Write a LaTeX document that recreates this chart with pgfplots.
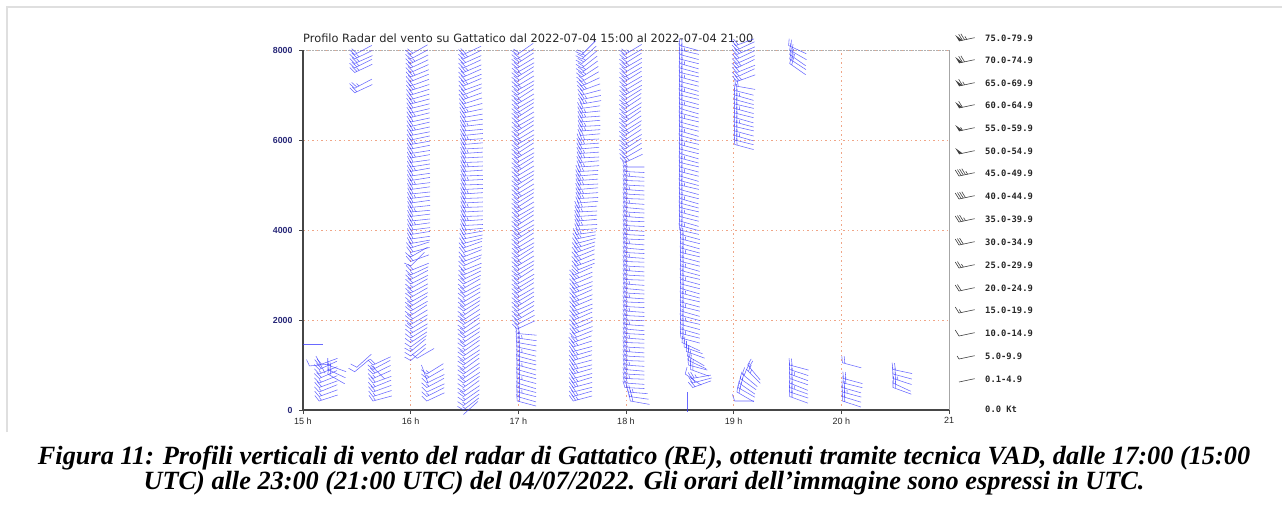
\documentclass[border=0pt]{standalone}
\usepackage{fontspec}
\usepackage{pgfplots}
\pgfplotsset{compat=1.18}
\setmainfont{DejaVu Sans}
\newfontfamily\capfont{Liberation Serif}
\newfontfamily\tickfont{Liberation Sans}
\newfontfamily\legfont{DejaVu Sans Mono}
\definecolor{barbblue}{RGB}{55,55,255}
\definecolor{gridc}{RGB}{240,165,135}
\definecolor{navyc}{RGB}{40,40,120}
\definecolor{axc}{RGB}{70,70,70}

\pgfdeclareplotmark{barb}{%
  \pgfsetlinewidth{0.55pt}%
  \pgfsetstrokecolor{barbblue}%
  \pgfsetstrokeopacity{0.75}%
  \pgfpathmoveto{\pgfqpoint{19.5pt}{0pt}}%
  \pgfpathlineto{\pgfqpoint{0pt}{0pt}}%
  \ifnum\barbn>1 \pgfpathlineto{\pgfpointpolar{110}{7pt}}\fi
  \ifnum\barbn>3 \pgfpathmoveto{\pgfqpoint{2.5pt}{0pt}}\pgfpathlineto{\pgfpointadd{\pgfqpoint{2.5pt}{0pt}}{\pgfpointpolar{110}{7pt}}}\fi
  \ifnum\barbn>5 \pgfpathmoveto{\pgfqpoint{5pt}{0pt}}\pgfpathlineto{\pgfpointadd{\pgfqpoint{5pt}{0pt}}{\pgfpointpolar{110}{7pt}}}\fi
  \ifodd\barbn
    \pgfpathmoveto{\pgfqpoint{\dimexpr(\barbn pt-1pt)*5/4\relax}{0pt}}%
    \pgfpathlineto{\pgfpointadd{\pgfqpoint{\dimexpr(\barbn pt-1pt)*5/4\relax}{0pt}}{\pgfpointpolar{110}{3.5pt}}}%
  \fi
  \pgfusepathqstroke}

\pgfplotsset{barbs/.style={scatter, only marks, mark=barb,
  visualization depends on={value \thisrow{a} \as \barbang},
  visualization depends on={value \thisrow{n} \as \barbn},
  scatter/@pre marker code/.append style={/tikz/rotate=\barbang}}}

\begin{document}
\begin{tikzpicture}[x=1pt,y=1pt]
\path[use as bounding box] (0,0) rectangle (1282,-504);
\draw[gray!25, line width=1.5pt] (7,-432) -- (7,-7) -- (1282,-7);
\node[anchor=west, font=\fontsize{11.4}{13}\selectfont, text=black!85, inner sep=0pt] at (303,-38) {Profilo Radar del vento su Gattatico dal 2022-07-04 15:00 al 2022-07-04 21:00};

\begin{axis}[
  at={(303pt,-410pt)}, anchor=south west,
  scale only axis, width=646pt, height=360pt,
  xmin=15, xmax=21, ymin=0, ymax=8000,
  clip=false,
  axis line style={draw=none},
  xtick={15,16,17,18,19,20,21},
  xticklabels={15 h,16 h,17 h,18 h,19 h,20 h,21},
  ytick={0,2000,4000,6000,8000},
  yticklabels={0,2000,4000,6000,8000},
  xticklabel style={font=\tickfont\fontsize{9}{10}\selectfont, text=black!85},
  yticklabel style={font=\tickfont\bfseries\fontsize{8.8}{10}\selectfont, text=navyc, xshift=-3pt},
  tick align=outside, major tick length=4pt,
  tick style={axc, line width=0.8pt},
  xtick pos=bottom, ytick pos=left,
  grid=major,
  grid style={gridc, line width=0.7pt, dash pattern=on 1.5pt off 3pt},
]
\draw[gray!60, line width=0.8pt, dash pattern=on 2pt off 1pt] (rel axis cs:0,1) -- (rel axis cs:1,1);
\draw[gray!70, line width=0.8pt] (rel axis cs:1,1) -- (rel axis cs:1,0);
\draw[axc, line width=2pt] (rel axis cs:0,1) -- (rel axis cs:0,0) -- (rel axis cs:1,0);

% 15 h area
\addplot[barbs] table {
x y a n
15.00 1450 0 0
15.06 980 5 2
15.12 1200 -62 0
15.15 200 18 3
15.15 300 20 3
15.15 400 22 3
15.15 500 20 4
15.15 600 22 3
15.15 700 24 4
15.15 800 22 3
15.15 900 25 4
15.15 1000 20 4
15.23 800 -30 4
15.23 900 -25 4
15.23 1000 -20 3
15.48 850 40 2
15.50 950 42 2
15.63 1000 -45 0
15.65 200 15 3
15.65 300 18 3
15.65 400 20 4
15.65 500 22 3
15.65 600 20 4
15.65 700 24 3
15.65 800 26 4
15.65 900 28 3
15.65 1000 25 4
15.48 7050 25 4
15.48 7150 28 5
15.48 7500 25 5
15.48 7600 27 5
15.48 7700 24 5
15.48 7800 26 5
15.48 7900 28 4
};

% 16 h
\addplot[barbs] table {
x y a n
16.00 1100 40 2
16.00 1200 38 2
16.00 1300 40 3
16.00 1400 36 2
16.00 1500 33 3
16.00 1600 32 3
16.00 1700 30 3
16.00 1800 32 4
16.00 1900 30 3
16.00 2000 31 4
16.00 2100 33 3
16.00 2200 30 4
16.00 2300 32 4
16.00 2400 29 3
16.00 2500 30 4
16.00 2600 28 4
16.00 2700 30 3
16.00 2800 27 4
16.00 2900 28 4
16.00 3000 25 3
16.00 3100 22 4
16.00 3200 45 2
16.00 3300 20 4
16.00 3400 30 3
16.00 3500 15 4
16.00 3600 18 4
16.00 3700 10 4
16.00 3800 8 4
16.00 3900 9 4
16.00 4000 7 4
16.00 4100 8 5
16.00 4200 6 4
16.00 4300 7 4
16.00 4400 5 5
16.00 4500 6 4
16.00 4600 8 4
16.00 4700 7 5
16.00 4800 6 4
16.00 4900 8 4
16.00 5000 7 5
16.00 5100 9 4
16.00 5200 8 4
16.00 5300 10 5
16.00 5400 9 4
16.00 5500 8 4
16.00 5600 10 5
16.00 5700 9 4
16.00 5800 11 4
16.00 5900 10 5
16.00 6000 12 4
16.00 6100 11 4
16.00 6200 12 5
16.00 6300 13 4
16.00 6400 12 4
16.00 6500 14 5
16.00 6600 13 4
16.00 6700 14 4
16.00 6800 15 5
16.00 6900 16 4
16.00 7000 17 4
16.00 7100 18 5
16.00 7200 20 4
16.00 7300 22 4
16.00 7400 22 5
16.00 7500 24 4
16.00 7600 25 4
16.00 7700 26 5
16.00 7800 28 4
16.00 7900 30 4
16.15 200 25 2
16.15 300 27 3
16.15 400 25 2
16.15 500 28 3
16.15 600 26 2
16.15 700 30 3
16.15 800 32 3
16.10 1000 -70 0
16.06 1150 30 2
};

% 16.5 h
\addplot[barbs] table {
x y a n
16.49 -100 42 0
16.49 0 38 3
16.49 100 36 3
16.49 200 35 3
16.49 300 34 4
16.49 400 36 3
16.49 500 35 3
16.49 600 33 4
16.49 700 35 3
16.49 800 34 4
16.49 900 36 3
16.49 1000 35 4
16.49 1100 33 3
16.49 1200 34 4
16.49 1300 35 3
16.49 1400 33 4
16.49 1500 34 3
16.49 1600 32 4
16.49 1700 33 4
16.49 1800 35 3
16.49 1900 32 4
16.49 2000 33 4
16.49 2100 34 3
16.49 2200 32 4
16.49 2300 30 4
16.49 2400 31 3
16.49 2500 30 4
16.49 2600 28 4
16.49 2700 30 3
16.49 2800 27 4
16.49 2900 26 4
16.49 3000 24 4
16.49 3100 22 3
16.49 3200 25 4
16.49 3300 20 4
16.49 3400 22 3
16.49 3500 18 4
16.49 3600 20 4
16.49 3700 15 4
16.49 3800 12 4
16.49 3900 10 4
16.49 4000 5 4
16.49 4100 3 4
16.49 4200 4 5
16.49 4300 2 4
16.49 4400 3 4
16.49 4500 2 5
16.49 4600 3 4
16.49 4700 2 4
16.49 4800 4 5
16.49 4900 3 4
16.49 5000 2 4
16.49 5100 3 5
16.49 5200 2 4
16.49 5300 4 4
16.49 5400 3 5
16.49 5500 2 4
16.49 5600 3 4
16.49 5700 4 5
16.49 5800 3 4
16.49 5900 5 4
16.49 6000 4 5
16.49 6100 6 4
16.49 6200 5 4
16.49 6300 7 5
16.49 6400 8 4
16.49 6500 10 4
16.49 6600 12 5
16.49 6700 15 4
16.49 6800 18 4
16.49 6900 20 5
16.49 7000 22 4
16.49 7100 20 4
16.49 7200 23 5
16.49 7300 22 4
16.49 7400 24 4
16.49 7500 23 5
16.49 7600 25 4
16.49 7700 24 4
16.49 7800 26 5
16.49 7900 25 4
};

% 17 h
\addplot[barbs] table {
x y a n
16.99 200 -15 4
16.99 300 -16 4
16.99 400 -14 5
16.99 500 -15 4
16.99 600 -17 4
16.99 700 -15 5
16.99 800 -14 4
16.99 900 -16 4
16.99 1000 -15 5
16.99 1100 -13 4
16.99 1200 -15 4
16.99 1300 -14 5
16.99 1400 -12 4
16.99 1500 -10 4
16.99 1600 -8 5
16.99 1700 -5 4
16.99 1800 25 4
16.99 1900 28 4
16.99 2000 30 5
16.99 2100 31 4
16.99 2200 30 4
16.99 2300 32 5
16.99 2400 31 4
16.99 2500 30 4
16.99 2600 32 5
16.99 2700 31 4
16.99 2800 30 4
16.99 2900 33 5
16.99 3000 32 4
16.99 3100 30 4
16.99 3200 31 5
16.99 3300 33 4
16.99 3400 32 4
16.99 3500 30 5
16.99 3600 31 4
16.99 3700 33 4
16.99 3800 32 5
16.99 3900 30 4
16.99 4000 31 4
16.99 4100 33 5
16.99 4200 32 4
16.99 4300 30 4
16.99 4400 31 5
16.99 4500 33 4
16.99 4600 32 4
16.99 4700 30 5
16.99 4800 31 4
16.99 4900 33 4
16.99 5000 32 5
16.99 5100 30 4
16.99 5200 31 4
16.99 5300 33 5
16.99 5400 32 4
16.99 5500 30 4
16.99 5600 31 5
16.99 5700 33 4
16.99 5800 32 4
16.99 5900 30 5
16.99 6000 31 4
16.99 6100 33 4
16.99 6200 32 5
16.99 6300 30 4
16.99 6400 31 4
16.99 6500 33 5
16.99 6600 32 4
16.99 6700 30 4
16.99 6800 31 5
16.99 6900 33 4
16.99 7000 32 4
16.99 7100 30 5
16.99 7200 31 4
16.99 7300 33 4
16.99 7400 32 5
16.99 7500 30 4
16.99 7600 31 4
16.99 7700 33 5
16.99 7800 32 4
16.99 7900 35 4
};

% 17.5 h
\addplot[barbs] table {
x y a n
17.51 200 15 5
17.51 300 16 5
17.51 400 14 4
17.51 500 15 5
17.51 600 17 5
17.51 700 15 4
17.51 800 16 5
17.51 900 14 5
17.51 1000 15 4
17.51 1100 17 5
17.51 1200 16 5
17.51 1300 15 4
17.51 1400 18 5
17.51 1500 20 5
17.52 1600 22 4
17.52 1700 21 5
17.52 1800 23 5
17.52 1900 22 4
17.52 2000 24 5
17.52 2100 22 5
17.52 2200 21 4
17.52 2300 23 5
17.52 2400 22 5
17.52 2500 24 4
17.52 2600 22 5
17.52 2700 21 5
17.52 2800 23 4
17.52 2900 22 5
17.52 3000 24 5
17.54 3100 22 4
17.54 3200 21 5
17.54 3300 23 5
17.54 3400 22 4
17.54 3500 20 5
17.54 3600 18 5
17.54 3700 15 4
17.54 3800 12 5
17.54 3900 8 5
17.55 4000 4 4
17.55 4100 3 5
17.55 4200 5 5
17.55 4300 4 4
17.55 4400 3 5
17.55 4500 4 5
17.56 4600 5 4
17.56 4700 3 5
17.56 4800 4 5
17.56 4900 5 4
17.56 5000 3 5
17.56 5100 4 5
17.56 5200 5 4
17.56 5300 3 5
17.57 5400 4 5
17.57 5500 5 4
17.57 5600 3 5
17.57 5700 4 5
17.57 5800 5 4
17.57 5900 4 5
17.57 6000 3 5
17.58 6100 5 4
17.58 6200 4 5
17.58 6300 3 5
17.58 6400 5 4
17.58 6500 4 5
17.58 6600 6 5
17.58 6700 8 4
17.59 6800 10 5
17.59 6900 12 5
17.59 7000 15 4
17.59 7100 20 5
17.59 7200 25 5
17.59 7300 30 4
17.59 7400 33 5
17.59 7500 36 5
17.59 7600 38 4
17.59 7700 40 5
17.59 7800 42 5
17.59 7900 45 4
};

% 18 h
\addplot[barbs] table {
x y a n
18.04 200 -10 4
18.03 300 -8 4
18.02 400 -5 5
17.99 500 -3 4
17.99 600 -4 4
17.99 700 -2 5
17.99 800 -3 4
17.99 900 -5 4
17.99 1000 -4 5
17.99 1100 -2 4
17.99 1200 -3 4
17.99 1300 -4 5
17.99 1400 -3 4
17.99 1500 -2 4
17.99 1600 -4 5
17.99 1700 -3 4
17.99 1800 -5 4
17.99 1900 -4 5
17.99 2000 -2 4
17.99 2100 -3 4
17.99 2200 -4 5
17.99 2300 -3 4
17.99 2400 -2 4
17.99 2500 -4 5
17.99 2600 -3 4
17.99 2700 -5 4
17.99 2800 -4 5
17.99 2900 -2 4
17.99 3000 -3 4
17.99 3100 -4 5
17.99 3200 -3 4
17.99 3300 -2 4
17.99 3400 -4 5
17.99 3500 -3 4
17.99 3600 -5 4
17.99 3700 -4 5
17.99 3800 -2 4
17.99 3900 -3 4
17.99 4000 -4 5
17.99 4100 -3 4
17.99 4200 -2 4
17.99 4300 -4 5
17.99 4400 -3 4
17.99 4500 -5 4
17.99 4600 -4 5
17.99 4700 -2 4
17.99 4800 -3 4
17.99 4900 -4 5
17.99 5000 -3 4
17.99 5100 -2 4
17.99 5200 -4 5
17.99 5300 -3 4
17.99 5400 0 4
17.99 5500 25 5
17.99 5600 30 4
17.99 5700 32 4
17.99 5800 33 5
17.99 5900 31 4
17.99 6000 33 4
17.99 6100 34 5
17.99 6200 32 4
17.99 6300 33 4
17.99 6400 35 5
17.99 6500 33 4
17.99 6600 32 4
17.99 6700 34 5
17.99 6800 33 4
17.99 6900 32 4
17.99 7000 30 5
17.99 7100 31 4
17.99 7200 30 4
17.99 7300 32 5
17.99 7400 30 4
17.99 7500 31 4
17.99 7600 30 5
17.99 7700 32 4
17.99 7800 30 4
17.99 7900 31 5
};

% 18.5 h
\addplot[barbs] table {
x y a n
18.57 400 -90 0
18.62 500 20 4
18.62 600 15 4
18.61 700 10 5
18.55 800 -35 2
18.60 900 -20 4
18.58 1000 -15 4
18.58 1100 -25 5
18.57 1200 -30 4
18.56 1300 -20 4
18.54 1400 -20 5
18.52 1500 -25 4
18.51 1600 -15 4
18.51 1700 -14 5
18.51 1800 -16 4
18.51 1900 -15 4
18.51 2000 -13 5
18.51 2100 -15 4
18.51 2200 -16 4
18.51 2300 -14 5
18.51 2400 -15 4
18.51 2500 -13 4
18.51 2600 -15 5
18.51 2700 -16 4
18.51 2800 -14 4
18.51 2900 -15 5
18.51 3000 -13 4
18.51 3100 -15 4
18.51 3200 -16 5
18.51 3300 -14 4
18.51 3400 -15 4
18.51 3500 -13 5
18.51 3600 -15 4
18.51 3700 -16 4
18.51 3800 -14 5
18.51 3900 -15 4
18.50 4000 -13 4
18.50 4100 -15 5
18.50 4200 -16 4
18.50 4300 -14 4
18.50 4400 -15 5
18.50 4500 -13 4
18.50 4600 -15 4
18.50 4700 -16 5
18.50 4800 -14 4
18.50 4900 -15 4
18.50 5000 -13 5
18.50 5100 -15 4
18.50 5200 -16 4
18.50 5300 -14 5
18.50 5400 -15 4
18.50 5500 -13 4
18.50 5600 -15 5
18.50 5700 -16 4
18.50 5800 -14 4
18.50 5900 -15 5
18.50 6000 -13 4
18.50 6100 -15 4
18.50 6200 -16 5
18.50 6300 -14 4
18.50 6400 -15 4
18.50 6500 -13 5
18.50 6600 -15 4
18.50 6700 -16 4
18.50 6800 -14 5
18.50 6900 -15 4
18.50 7000 -13 4
18.50 7100 -15 5
18.50 7200 -16 4
18.50 7300 -14 4
18.50 7400 -15 5
18.50 7500 -13 4
18.50 7600 -15 4
18.50 7700 -16 5
18.50 7800 -14 4
18.50 7900 -15 4
18.50 8000 -13 5
18.50 8100 -15 4
};

% 19 h - 21 h
\addplot[barbs] table {
x y a n
19.01 200 0 2
19.03 400 -30 4
19.04 500 -30 4
19.05 600 -35 4
19.06 700 -35 4
19.08 800 -40 4
19.12 900 -45 5
19.13 1000 -50 4
19.01 5900 -15 4
19.01 6000 -14 4
19.01 6100 -16 5
19.01 6200 -15 4
19.01 6300 -13 4
19.01 6400 -15 5
19.01 6500 -16 4
19.01 6600 -14 4
19.01 6700 -15 5
19.01 6800 -13 4
19.01 6900 -15 4
19.01 7000 -16 5
19.01 7100 -14 4
19.02 7200 -10 4
19.03 7300 20 5
19.03 7400 25 4
19.03 7500 22 4
19.03 7600 26 5
19.03 7700 24 4
19.03 7800 25 4
19.03 7900 23 5
19.03 8000 25 4
19.02 8100 20 4
19.52 300 -20 4
19.52 400 -18 4
19.52 500 -20 5
19.52 600 -22 4
19.52 700 -19 4
19.52 800 -20 5
19.52 900 -18 4
19.52 1000 -15 4
19.52 7700 -35 4
19.52 7800 -33 4
19.52 7900 -35 5
19.52 8000 -30 4
19.51 8100 -25 4
20.01 200 -18 4
20.01 300 -17 4
20.01 400 -15 5
20.01 500 -16 4
20.02 600 -14 4
20.02 700 -15 4
20.01 1050 -15 4
20.48 500 -20 4
20.48 600 -25 4
20.48 700 -18 5
20.48 800 -15 4
20.48 900 -12 4
};
\end{axis}

% legend
\foreach \lab/\ly/\ln/\lp in {75.0-79.9/38/5/1, 70.0-74.9/60/4/1, 65.0-69.9/83/3/1, 60.0-64.9/105/2/1, 55.0-59.9/128/1/1, 50.0-54.9/151/0/1, 45.0-49.9/173/9/0, 40.0-44.9/196/8/0, 35.0-39.9/219/7/0, 30.0-34.9/242/6/0, 25.0-29.9/265/5/0, 20.0-24.9/288/4/0, 15.0-19.9/310/3/0, 10.0-14.9/333/2/0, 5.0-9.9/356/1/0, 0.1-4.9/379/0/0}{
  \node[anchor=west, inner sep=0pt, font=\legfont\bfseries\fontsize{8.8}{10}\selectfont, text=black!85] at (985,-\ly) {\lab};
  \begin{scope}[shift={(959,-\ly-3)}, rotate=12, black!75, line width=0.6pt]
    \draw (0,0) -- (16,0);
    \pgfmathtruncatemacro\nf{\ln/2}
    \pgfmathtruncatemacro\nh{mod(\ln,2)}
    \pgfmathsetmacro\off{\lp*3.5}
    \ifnum\lp=1 \fill (0,0) -- (110:7) -- (3.5,0) -- cycle; \fi
    \ifnum\nf>0 \foreach \k in {1,...,\nf} { \draw ({\off+(\k-1)*2.2},0) -- ++(110:7); } \fi
    \ifnum\nh=1 \draw ({\off+\nf*2.2},0) -- ++(110:3.5); \fi
  \end{scope}
}
\node[anchor=west, inner sep=0pt, font=\legfont\bfseries\fontsize{8.8}{10}\selectfont, text=black!85] at (985,-409) {0.0 Kt};

% caption
\node[align=center, font=\capfont\bfseries\itshape\fontsize{26.3}{25}\selectfont, inner sep=0pt] at (644,-471) {Figura 11: Profili verticali di vento del radar di Gattatico (RE), ottenuti tramite tecnica VAD, dalle 17:00 (15:00\\UTC) alle 23:00 (21:00 UTC) del 04/07/2022. Gli orari dell’immagine sono espressi in UTC.};
\end{tikzpicture}
\end{document}
